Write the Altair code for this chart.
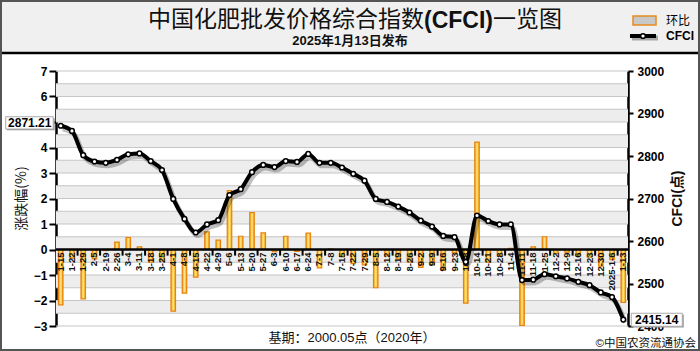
import altair as alt
import pandas as pd

dates = ["1-15","1-22","1-29","2-5","2-19","2-26","3-4","3-11","3-18","3-25",
         "4-1","4-8","4-15","4-22","4-29","5-6","5-13","5-20","5-27","6-3",
         "6-10","6-17","6-24","7-1","7-8","7-15","7-22","7-29","8-5","8-12",
         "8-19","8-26","9-2","9-9","9-16","9-23","10-8","10-14","10-21","10-28",
         "11-4","11-11","11-18","11-25","12-2","12-9","12-16","12-23","12-30","2025-1-6","1-13"]
cfci = [2871.21, 2859, 2802, 2787, 2784, 2791, 2804, 2806, 2788, 2767,
        2699, 2652, 2620, 2639, 2649, 2708, 2722, 2762, 2779, 2774,
        2788, 2786, 2805, 2784, 2784, 2773, 2758, 2742, 2699, 2692,
        2681, 2667, 2648, 2634, 2612, 2609, 2551, 2660, 2647, 2639,
        2639, 2508, 2509, 2522, 2517, 2512, 2504, 2496, 2479, 2468, 2415.14]
pct = [-2.17, -0.34, -1.94, -0.37, -0.04, 0.29, 0.47, 0.10, -0.50, -0.45,
       -2.42, -1.71, -1.08, 0.69, 0.37, 2.31, 0.52, 1.45, 0.65, -0.08,
       0.52, -0.07, 0.64, -0.72, 0.02, -0.28, -0.55, -0.60, -1.50, -0.25,
       -0.38, -0.50, -0.70, -0.60, -0.80, -0.12, -2.10, 4.21, -0.50, -0.24,
       0.05, -2.98, 0.10, 0.50, -0.15, -0.10, -0.22, -0.30, -0.65, -0.40, -2.07]
left_ticks = [-3, -2, -1, 0, 1, 2, 3, 4, 5, 6, 7]
right_ticks = [2400, 2500, 2600, 2700, 2800, 2900, 3000]
grid_vals = [v / 2 for v in range(-6, 15)]
band_lo = [6, 5, 4, 3, 2, 1, 0, -0.5, -1.5, -2.5]

LAT = "Liberation Sans"
CJK = "Noto Sans CJK SC"
MIX = "Liberation Sans, Noto Sans CJK SC"

W, H = 572, 255
df = pd.DataFrame({"date": dates, "cfci": cfci, "pct": pct})
df["idx"] = range(1, len(df) + 1)
df["lab"] = df["cfci"].map(lambda v: f"{v:.2f}")

xs = alt.Scale(type="point", domain=dates, padding=0.42)
X = alt.X("date:N", scale=xs, sort=None, axis=None)
yL = alt.Scale(domain=[-3, 7], nice=False, zero=False)
yR = alt.Scale(domain=[2400, 3000], nice=False, zero=False)

axL = alt.Axis(orient="left", values=left_ticks, grid=False, title=None, format="d",
               domainColor="black", domainWidth=2.5, tickColor="black",
               tickWidth=2, tickSize=7, labelFont=LAT, labelFontSize=12,
               labelFontWeight="bold", labelColor="black", labelPadding=2)
axR = alt.Axis(orient="right", values=right_ticks, grid=False, title=None, format="d",
               domainColor="black", domainWidth=2.5, tickColor="black",
               tickWidth=2, tickSize=5, labelFont=LAT, labelFontSize=12,
               labelFontWeight="bold", labelColor="black", labelPadding=4)

one = pd.DataFrame({"k": [0]})

def deco():
    return alt.Chart(one)

# header background
header = deco().mark_rect(fill="#F0F0F0").encode(
    x=alt.value(-56), x2=alt.value(644), y=alt.value(-71), y2=alt.value(-18))
header_line = deco().mark_rule(color="black", strokeWidth=2.5).encode(
    x=alt.value(-56), x2=alt.value(644), y=alt.value(-18))

title_a = deco().mark_text(text="中国化肥批发价格综合指数", font=CJK, fontSize=23,
                           align="right", baseline="middle", color="#111").encode(
    x=alt.value(368), y=alt.value(-51))
title_b = deco().mark_text(text="(CFCI)", font=LAT, fontSize=23, fontWeight="bold",
                           align="left", baseline="middle", color="#111").encode(
    x=alt.value(368), y=alt.value(-50))
title_c = deco().mark_text(text="一览图", font=CJK, fontSize=23,
                           align="left", baseline="middle", color="#111").encode(
    x=alt.value(437), y=alt.value(-51))
subtitle = deco().mark_text(text="2025年1月13日发布", font=MIX, fontSize=13, fontWeight="bold",
                            align="center", baseline="middle", color="#111").encode(
    x=alt.value(294), y=alt.value(-30))

# legend
leg_box = deco().mark_rect(fill="#C8C8C8", stroke="#E8891A", strokeWidth=1.5).encode(
    x=alt.value(577), x2=alt.value(600), y=alt.value(-55), y2=alt.value(-46))
leg_t1 = deco().mark_text(text="环比", font=CJK, fontSize=12, align="left", baseline="middle").encode(
    x=alt.value(610), y=alt.value(-50))
leg_shadow = deco().mark_rule(color="black", opacity=0.3, strokeWidth=5).encode(
    x=alt.value(576), x2=alt.value(602), y=alt.value(-33))
leg_line = deco().mark_rule(color="black", strokeWidth=4).encode(
    x=alt.value(574), x2=alt.value(600), y=alt.value(-35))
leg_pt = deco().mark_point(shape="circle", filled=True, fill="white", stroke="black",
                           strokeWidth=1.5, size=22, opacity=1).encode(
    x=alt.value(587), y=alt.value(-35))
leg_t2 = deco().mark_text(text="CFCI", font=LAT, fontSize=12, fontWeight="bold",
                          align="left", baseline="middle").encode(
    x=alt.value(610), y=alt.value(-35))

# axis titles
ytitle_l = deco().mark_text(text="涨跌幅(%)", font=CJK, fontSize=14, angle=270,
                            align="center", baseline="middle", color="#111").encode(
    x=alt.value(-34), y=alt.value(127.5))
ytitle_r = deco().mark_text(text="CFCI(点)", font=MIX, fontSize=14, fontWeight="bold", angle=270,
                            align="center", baseline="middle", color="#111").encode(
    x=alt.value(622), y=alt.value(127.5))

foot1 = deco().mark_text(text="基期：2000.05点（2020年）", font=MIX, fontSize=13,
                         align="center", baseline="middle", color="#111").encode(
    x=alt.value(296), y=alt.value(267))
foot2 = deco().mark_text(text="©中国农资流通协会", font=MIX, fontSize=11.5,
                         align="right", baseline="middle", color="#111").encode(
    x=alt.value(640), y=alt.value(273))

frame = deco().mark_rect(filled=False, stroke="#555", strokeWidth=2).encode(
    x=alt.value(-55), x2=alt.value(643), y=alt.value(-70), y2=alt.value(279))

# left-scale layers
bands = alt.Chart(pd.DataFrame({"lo": band_lo})).transform_calculate(
    hi="datum.lo + 0.5").mark_rect(fill="#EDEDED").encode(
    x=alt.value(0), x2=alt.value(W),
    y=alt.Y("lo:Q", scale=yL, axis=axL), y2="hi:Q")
grid = alt.Chart(pd.DataFrame({"g": grid_vals})).mark_rule(color="#C6C6C6", strokeWidth=1.2).encode(
    x=alt.value(0), x2=alt.value(W), y=alt.Y("g:Q", scale=yL, axis=axL))

bar_fill = {"gradient": "linear", "x1": 0, "x2": 1, "y1": 0, "y2": 0,
            "stops": [{"offset": 0, "color": "#F0A800"},
                      {"offset": 0.5, "color": "#FFE58A"},
                      {"offset": 1, "color": "#F0A800"}]}
bars = alt.Chart(df).mark_bar(size=4.5, fill=bar_fill, stroke="#E8820E", strokeWidth=1.2).encode(
    x=X, y=alt.Y("pct:Q", scale=yL, axis=axL), y2=alt.datum(0))
zero = deco().mark_rule(color="black", strokeWidth=2.5).encode(
    x=alt.value(0), x2=alt.value(W), y=alt.Y(datum=0, scale=yL, axis=axL))
ticks = alt.Chart(df).transform_filter("datum.idx % 2 == 0").mark_rule(
    color="black", strokeWidth=2, xOffset=5.6).encode(
    x=X, y=alt.Y(datum=0, scale=yL, axis=axL), y2=alt.datum(-0.24))
xlabels = alt.Chart(df).mark_text(font=LAT, fontSize=9.5, fontWeight="bold", angle=270,
                                  align="right", baseline="middle", yOffset=3, color="#111").encode(
    x=X, y=alt.Y(datum=0, scale=yL, axis=axL), text="date:N")

left = alt.layer(header, header_line, title_a, title_b, title_c, subtitle,
                 leg_box, leg_t1, leg_shadow, leg_line, leg_pt, leg_t2,
                 ytitle_l, ytitle_r, foot1, foot2,
                 bands, grid, bars, zero, ticks, xlabels)

# right-scale layers
YR = alt.Y("cfci:Q", scale=yR, axis=axR)
shadow = alt.Chart(df).mark_line(color="black", opacity=0.25, strokeWidth=5,
                                 interpolate="monotone", xOffset=2, yOffset=3).encode(x=X, y=YR)
line = alt.Chart(df).mark_line(color="black", strokeWidth=4, interpolate="monotone").encode(x=X, y=YR)
pts = alt.Chart(df).mark_point(shape="circle", filled=True, fill="white", stroke="black",
                               strokeWidth=1.5, size=22, opacity=1).encode(x=X, y=YR)

first = df.iloc[[0]]
last = df.iloc[[-1]]
box1s = alt.Chart(first).mark_rect(fill="#999", xOffset=-54, x2Offset=-6, yOffset=-7.5, y2Offset=4.5).encode(
    x=X, x2="date:N", y=YR, y2="cfci:Q")
box1 = alt.Chart(first).mark_rect(fill="white", stroke="#AAA", strokeWidth=1,
                                  xOffset=-55, x2Offset=-7.5, yOffset=-9, y2Offset=3.3).encode(
    x=X, x2="date:N", y=YR, y2="cfci:Q")
txt1 = alt.Chart(first).mark_text(font=LAT, fontSize=12, fontWeight="bold", align="center",
                                  baseline="middle", xOffset=-31, yOffset=-2.6, color="black").encode(
    x=X, y=YR, text="lab:N")
box2s = alt.Chart(last).mark_rect(fill="#999", xOffset=9.5, x2Offset=60.5, yOffset=-5, y2Offset=8).encode(
    x=X, x2="date:N", y=YR, y2="cfci:Q")
box2 = alt.Chart(last).mark_rect(fill="white", stroke="#AAA", strokeWidth=1,
                                 xOffset=8, x2Offset=59, yOffset=-6.3, y2Offset=6.7).encode(
    x=X, x2="date:N", y=YR, y2="cfci:Q")
txt2 = alt.Chart(last).mark_text(font=LAT, fontSize=12, fontWeight="bold", align="center",
                                 baseline="middle", xOffset=33.5, yOffset=0.4, color="black").encode(
    x=X, y=YR, text="lab:N")

right = alt.layer(shadow, line, pts, box1s, box1, txt1, box2s, box2, txt2, frame)

chart = alt.layer(left, right).resolve_scale(y="independent").properties(
    width=W, height=H,
    autosize=alt.AutoSizeParams(type="none"),
    padding={"left": 56, "top": 71, "right": 72, "bottom": 25},
    background="white",
).configure_view(stroke=None)

chart.save("out.html", embed_options={"renderer": "svg", "actions": False})
